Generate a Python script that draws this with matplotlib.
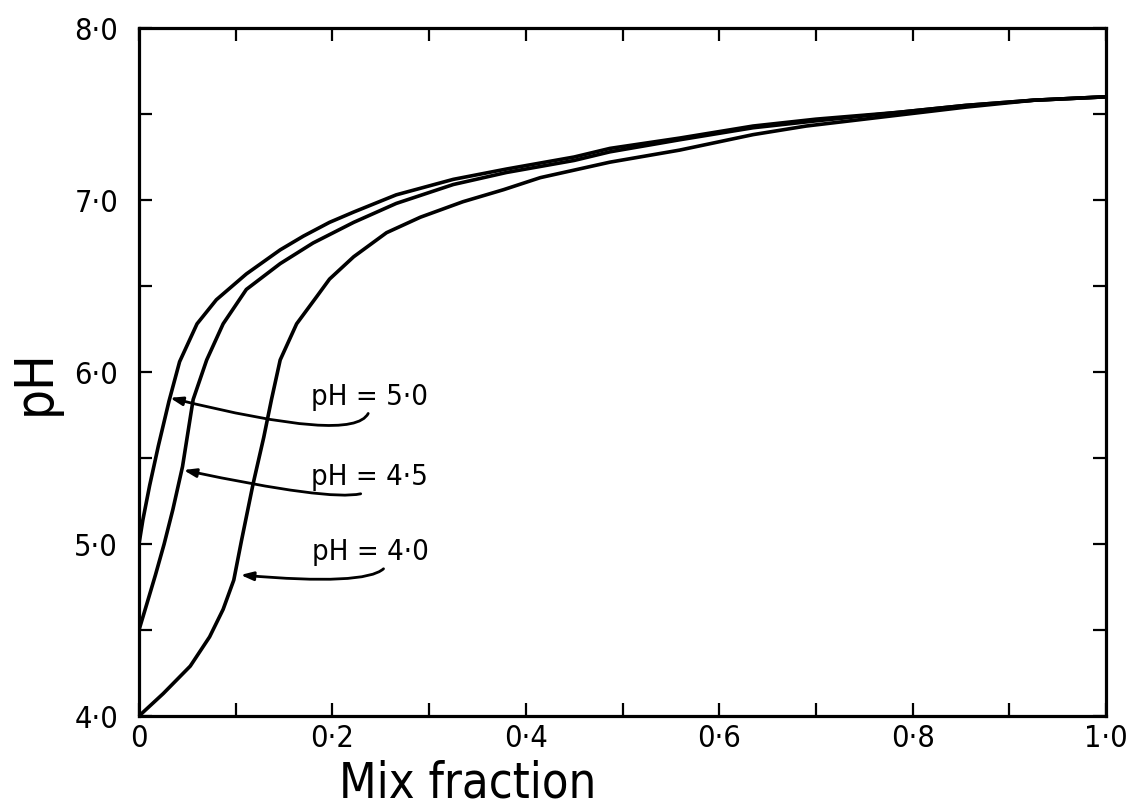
import matplotlib
matplotlib.use('Agg')
import matplotlib.pyplot as plt
from matplotlib import font_manager

# pH of the mixture against mix fraction, one curve per starting pH
mix_50 = [0, 0.004, 0.011, 0.020, 0.031, 0.042, 0.060, 0.080, 0.111, 0.146, 0.170, 0.197,
          0.222, 0.266, 0.325, 0.380, 0.45, 0.487, 0.559, 0.635, 0.70, 0.786, 0.855, 0.925, 1.0]
ph_50 = [5.0, 5.14, 5.34, 5.57, 5.83, 6.06, 6.28, 6.42, 6.57, 6.71, 6.79, 6.87,
         6.93, 7.03, 7.12, 7.18, 7.25, 7.30, 7.36, 7.43, 7.47, 7.51, 7.55, 7.58, 7.60]

mix_45 = [0, 0.008, 0.017, 0.026, 0.035, 0.045, 0.056, 0.070, 0.087, 0.111, 0.146, 0.180,
          0.222, 0.266, 0.325, 0.380, 0.45, 0.487, 0.559, 0.635, 0.70, 0.786, 0.855, 0.925, 1.0]
ph_45 = [4.5, 4.65, 4.82, 5.0, 5.2, 5.45, 5.84, 6.07, 6.28, 6.48, 6.63, 6.75,
         6.87, 6.98, 7.09, 7.16, 7.23, 7.28, 7.35, 7.42, 7.46, 7.51, 7.55, 7.58, 7.60]

mix_40 = [0, 0.025, 0.053, 0.073, 0.087, 0.098, 0.106, 0.118, 0.129, 0.137, 0.146, 0.163,
          0.184, 0.197, 0.222, 0.256, 0.291, 0.335, 0.377, 0.415, 0.487, 0.559, 0.635, 0.69,
          0.75, 0.855, 0.925, 1.0]
ph_40 = [4.0, 4.13, 4.29, 4.46, 4.62, 4.79, 5.02, 5.35, 5.62, 5.84, 6.07, 6.28,
         6.44, 6.54, 6.67, 6.81, 6.90, 6.99, 7.06, 7.13, 7.22, 7.29, 7.38, 7.43,
         7.47, 7.54, 7.58, 7.60]

curve_labels = ['pH = 5·0', 'pH = 4·5', 'pH = 4·0']
# where each leader touches its curve, and where its label sits
label_targets = [(0.032, 5.85), (0.046, 5.43), (0.105, 4.82)]
label_spots = [(0.178, 5.81), (0.178, 5.343), (0.179, 4.907)]

x_ticks = [0, 0.2, 0.4, 0.6, 0.8, 1.0]
x_tick_labels = ['0', '0·2', '0·4', '0·6', '0·8', '1·0']
y_ticks = [4, 5, 6, 7, 8]
y_tick_labels = ['4·0', '5·0', '6·0', '7·0', '8·0']

# the original lettering is a narrow face; use a condensed sans if one is there
narrow = None
for f in font_manager.fontManager.ttflist:
    if f.style != 'normal' or f.weight not in (400, 'normal', 'regular'):
        continue
    if f.stretch in ('condensed', 'semi-condensed') or 'Narrow' in f.name or 'Condensed' in f.name:
        narrow = f
        break
if narrow is not None:
    plt.rcParams['font.family'] = [narrow.name, 'DejaVu Sans']
    plt.rcParams['font.stretch'] = narrow.stretch
    scale = 1.0
else:
    plt.rcParams['font.family'] = ['DejaVu Sans']
    scale = 0.88

fig = plt.figure(figsize=(11.33, 8.09), dpi=100)
ax = fig.add_axes([139 / 1133, 1 - 716 / 809, 967 / 1133, 688 / 809])

for xs, ys in [(mix_50, ph_50), (mix_45, ph_45), (mix_40, ph_40)]:
    ax.plot(xs, ys, color='black', lw=2.6, solid_capstyle='round', solid_joinstyle='round')

bends = [-14, -12, -5]
rel = [(0.5, 0.12), (0.5, 0.15), (0.64, 0.15)]
for text, target, spot, bend, rp in zip(curve_labels, label_targets, label_spots, bends, rel):
    ax.annotate(text, xy=target, xytext=spot, ha='left', va='baseline', fontsize=21 * scale,
                arrowprops=dict(arrowstyle='-|>,head_length=0.35,head_width=0.12', color='black',
                                lw=2.0, shrinkA=0, shrinkB=0, relpos=rp,
                                connectionstyle=f'angle3,angleA=90,angleB={bend}'))

ax.set_xlim(0, 1.0)
ax.set_ylim(4.0, 8.0)
ax.set_xticks(x_ticks)
ax.set_xticklabels(x_tick_labels)
ax.set_yticks(y_ticks)
ax.set_yticklabels(y_tick_labels)
ax.set_xticks([0.1, 0.3, 0.5, 0.7, 0.9], minor=True)
ax.set_yticks([4.5, 5.5, 6.5, 7.5], minor=True)
ax.tick_params(which='both', direction='in', top=True, right=True, length=9.5, width=1.6)
ax.tick_params(axis='x', labelsize=22 * scale, pad=6)
ax.tick_params(axis='y', labelsize=22 * scale, pad=15)
for sp in ax.spines.values():
    sp.set_linewidth(2.3)

fig.text(0.34 * 967 / 1133 + 139 / 1133, 1 - 798 / 809, 'Mix fraction', fontsize=35 * scale,
         ha='center', va='baseline')
fig.text(35 / 1133, 1 - 382 / 809, 'pH', fontsize=38 * scale, rotation=90,
         ha='center', va='center')

fig.savefig('out.png', dpi=100)
